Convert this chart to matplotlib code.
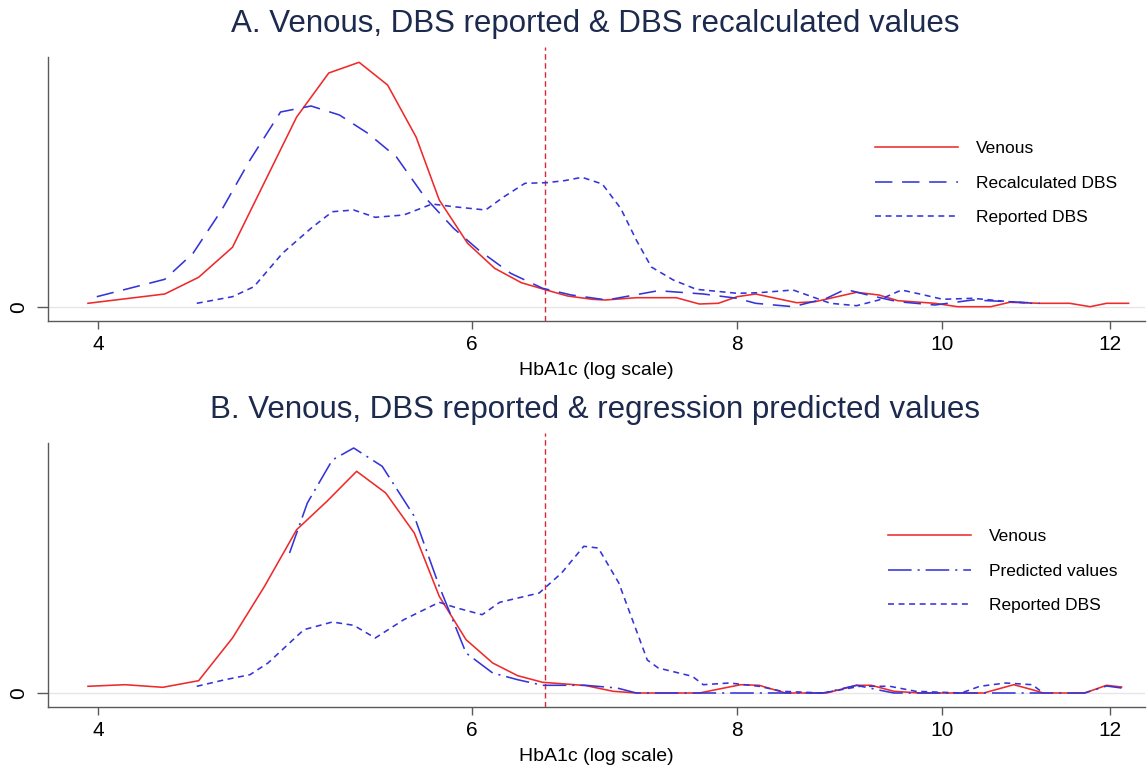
import matplotlib
matplotlib.use("Agg")
import matplotlib.pyplot as plt
from matplotlib.ticker import FixedLocator, FixedFormatter, NullLocator

plt.rcParams['font.family'] = ['Liberation Sans', 'DejaVu Sans']
plt.rcParams['lines.scale_dashes'] = False

# ---------------- Panel A data (HbA1c, density) ----------------
venA_x = [3.956, 4.300, 4.461, 4.628, 4.962, 5.138, 5.310, 5.477, 5.649, 5.793,
          5.974, 6.152, 6.333, 6.507, 6.659, 6.841, 6.937, 7.175, 7.493, 7.683,
          7.843, 8.005, 8.167, 8.539, 8.711, 9.114, 9.337, 9.532, 9.922, 10.169,
          10.543, 10.762, 11.118, 11.486, 11.745, 11.956, 12.245]
venA_y = [0.037, 0.13, 0.297, 0.597, 1.90, 2.34, 2.447, 2.22, 1.70, 1.07,
          0.637, 0.387, 0.243, 0.17, 0.11, 0.077, 0.07, 0.093, 0.093, 0.03,
          0.037, 0.103, 0.13, 0.043, 0.053, 0.147, 0.12, 0.063, 0.037, 0.003,
          0.003, 0.047, 0.037, 0.037, 0.003, 0.037, 0.037]

recA_x = [3.994, 4.300, 4.434, 4.574, 4.717, 4.876, 5.040, 5.198, 5.361, 5.530,
          5.702, 5.884, 6.046, 6.260, 6.481, 6.686, 6.950, 7.348, 7.716, 8.005,
          8.167, 8.506, 8.821, 9.004, 9.226, 9.532, 9.922, 10.336, 10.762, 11.118]
recA_y = [0.103, 0.277, 0.537, 0.97, 1.47, 1.95, 2.01, 1.92, 1.737, 1.50,
          1.10, 0.787, 0.57, 0.337, 0.187, 0.12, 0.07, 0.163, 0.13, 0.087,
          0.037, 0.003, 0.087, 0.177, 0.12, 0.053, 0.02, 0.07, 0.053, 0.037]

repA_x = [4.452, 4.628, 4.737, 4.886, 5.040, 5.158, 5.279, 5.404, 5.574, 5.748,
          5.884, 6.092, 6.212, 6.358, 6.507, 6.635, 6.764, 6.915, 7.055, 7.175,
          7.293, 7.469, 7.658, 8.005, 8.198, 8.506, 8.683, 8.858, 9.114, 9.337,
          9.569, 9.761, 10.008, 10.336, 10.762, 11.029]
repA_y = [0.037, 0.103, 0.203, 0.537, 0.787, 0.953, 0.97, 0.897, 0.92, 1.03,
          1.003, 0.97, 1.10, 1.237, 1.243, 1.263, 1.297, 1.23, 0.985, 0.67,
          0.40, 0.27, 0.177, 0.137, 0.143, 0.17, 0.103, 0.037, 0.013, 0.07,
          0.17, 0.13, 0.077, 0.087, 0.053, 0.037]

# ---------------- Panel B data ----------------
venB_x = [3.956, 4.119, 4.291, 4.461, 4.628, 4.792, 4.962, 5.128, 5.296, 5.466,
          5.638, 5.793, 5.964, 6.139, 6.308, 6.481, 6.789, 6.997, 7.175, 7.683,
          8.036, 8.198, 8.437, 8.821, 9.114, 9.261, 9.490, 9.761, 10.463, 10.809,
          11.029, 11.161, 11.674, 11.956, 12.152]
venB_y = [0.067, 0.083, 0.057, 0.123, 0.55, 1.067, 1.633, 1.917, 2.217, 2.00,
          1.60, 0.967, 0.533, 0.30, 0.173, 0.107, 0.075, 0.017, 0.0, 0.0,
          0.083, 0.077, 0.0, 0.0, 0.077, 0.077, 0.017, 0.0, 0.0, 0.083,
          0.033, 0.0, 0.0, 0.077, 0.06]

preB_x = [4.924, 5.020, 5.158, 5.279, 5.445, 5.638, 5.793, 5.964, 6.139, 6.308,
          6.481, 6.789, 7.027, 7.175, 8.787, 9.114, 9.337, 9.490, 11.674, 11.956,
          12.152]
preB_y = [1.40, 1.90, 2.33, 2.45, 2.267, 1.767, 1.067, 0.40, 0.20, 0.133,
          0.077, 0.077, 0.05, 0.0, 0.0, 0.077, 0.03, 0.0, 0.0, 0.07,
          0.05]

repB_x = [4.452, 4.591, 4.717, 4.810, 5.001, 5.158, 5.279, 5.404, 5.574, 5.793,
          5.906, 6.069, 6.186, 6.457, 6.616, 6.777, 6.885, 7.040, 7.261, 7.348,
          7.625, 7.716, 7.937, 8.198, 8.405, 8.787, 9.147, 9.449, 9.719, 10.211,
          10.418, 10.716, 11.029, 11.161]
repB_y = [0.067, 0.133, 0.183, 0.30, 0.633, 0.71, 0.677, 0.55, 0.733, 0.907,
          0.85, 0.783, 0.907, 1.00, 1.20, 1.467, 1.45, 1.10, 0.33, 0.25,
          0.167, 0.083, 0.10, 0.067, 0.017, 0.0, 0.067, 0.067, 0.017, 0.0,
          0.067, 0.10, 0.083, 0.0]

cutoff = 6.5
xticks = [4, 6, 8, 10, 12]
xtick_labels = ['4', '6', '8', '10', '12']
titles = ["A. Venous, DBS reported & DBS recalculated values",
          "B. Venous, DBS reported & regression predicted values"]
xlabel = "HbA1c (log scale)"

RED = '#ee2a2a'
BLUE = '#3434d8'
TITLE_C = '#1c2a4e'
AX_C = '#5a5a5a'

W, H = 1148, 774
fig = plt.figure(figsize=(W / 100, H / 100), dpi=100)

def px_axes(left, top, right, bottom):
    return fig.add_axes([left / W, 1 - bottom / H, (right - left) / W, (bottom - top) / H])

axA = px_axes(48, 57, 1145, 321)
axB = px_axes(48, 443, 1145, 707)

styles_long = (0, (12.5, 7.0))
styles_short = (0, (4.3, 3.3))
styles_dashdot = (0, (17, 4.3, 1.5, 4.3))

def setup(ax):
    ax.set_xscale('log')
    ax.set_xlim(3.788, 12.465)
    ax.set_ylim(-0.14, 2.50)
    ax.xaxis.set_major_locator(FixedLocator(xticks))
    ax.xaxis.set_major_formatter(FixedFormatter(xtick_labels))
    ax.xaxis.set_minor_locator(NullLocator())
    ax.set_yticks([0])
    ax.set_yticklabels(['0'], rotation=90, va='center')
    ax.axhline(0, color='#e6e6e6', lw=1.0, zorder=0)
    for s in ['top', 'right']:
        ax.spines[s].set_visible(False)
    for s in ['left', 'bottom']:
        ax.spines[s].set_color(AX_C)
        ax.spines[s].set_linewidth(1.0)
    ax.tick_params(axis='x', length=6, width=1, color=AX_C, labelsize=15, pad=4)
    ax.tick_params(axis='y', length=8, width=1, color=AX_C, labelsize=15, pad=6)
    ax.axvline(cutoff, ymin=0, ymax=1.038, clip_on=False,
               color='#d8283a', lw=1.0, ls=(0, (4, 2.5)), zorder=1)
    ax.set_xlabel(xlabel, fontsize=14, labelpad=6)

setup(axA)
axA.plot(venA_x, venA_y, color=RED, lw=1.15, label='Venous')
axA.plot(recA_x, recA_y, color=BLUE, lw=1.15, ls=styles_long, label='Recalculated DBS')
axA.plot(repA_x, repA_y, color=BLUE, lw=1.15, ls=styles_short, label='Reported DBS')

setup(axB)
axB.plot(venB_x, venB_y, color=RED, lw=1.15, label='Venous')
axB.plot(preB_x, preB_y, color=BLUE, lw=1.15, ls=styles_dashdot, label='Predicted values')
axB.plot(repB_x, repB_y, color=BLUE, lw=1.15, ls=styles_short, label='Reported DBS')

fig.text(595 / W, 1 - 24 / H, titles[0], ha='center', va='center', fontsize=22.5, color=TITLE_C)
fig.text(595 / W, 1 - 410 / H, titles[1], ha='center', va='center', fontsize=22.5, color=TITLE_C)

leg_kw = dict(frameon=False, fontsize=12.5, handlelength=4.8, handletextpad=1.0,
              labelspacing=1.1, borderpad=0, borderaxespad=0, loc='center left')
axA.legend(bbox_to_anchor=(875 / W, 1 - 183 / H), bbox_transform=fig.transFigure, **leg_kw)
axB.legend(bbox_to_anchor=(888 / W, 1 - 571 / H), bbox_transform=fig.transFigure, **leg_kw)

fig.savefig('out.png', dpi=100, facecolor='white')
